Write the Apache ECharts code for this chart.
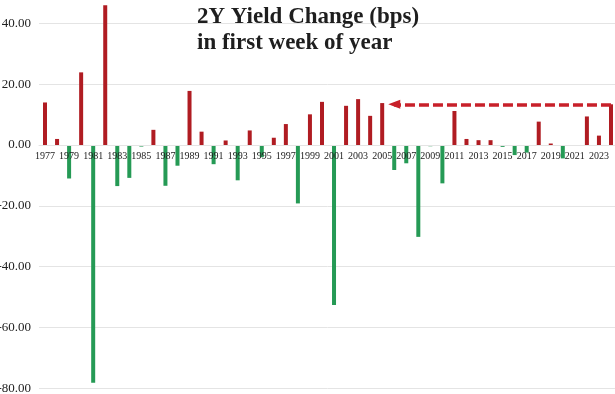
<!DOCTYPE html>
<html>
<head>
<meta charset="utf-8">
<script src="https://cdn.jsdelivr.net/npm/echarts@6/dist/echarts.min.js"></script>
<style>
html,body{margin:0;padding:0;background:#fff;}
#chart{width:615px;height:394px;}
</style>
</head>
<body>
<div id="chart"></div>
<script>
var years = ['1977','1978','1979','1980','1981','1982','1983','1984','1985','1986','1987','1988','1989','1990','1991','1992','1993','1994','1995','1996','1997','1998','1999','2000','2001','2002','2003','2004','2005','2006','2007','2008','2009','2010','2011','2012','2013','2014','2015','2016','2017','2018','2019','2020','2021','2022','2023','2024'];
var changes = [14.0,2.0,-11.0,23.9,-78.2,46.0,-13.5,-10.8,-0.5,5.0,-13.4,-6.8,17.8,4.4,-6.3,1.5,-11.6,4.8,-4.0,2.4,6.9,-19.2,10.1,14.2,-52.6,12.9,15.1,9.6,13.8,-8.2,-6.0,-30.2,-0.4,-12.6,11.2,2.0,1.6,1.6,-0.6,-3.3,-2.5,7.7,0.5,-4.4,0,9.4,3.1,13.4];
var titleLines = ['2Y Yield Change (bps)', 'in first week of year'];
var arrowFrom = '2024';
var arrowTo = '2005';
var yMin = -80, yMax = 50, yStep = 20;

var chart = echarts.init(document.getElementById('chart'));
var serif = '"Liberation Serif", "DejaVu Serif", serif';
var fromIdx = years.indexOf(arrowFrom);
var toIdx = years.indexOf(arrowTo);
var arrowLevel = changes[fromIdx];

chart.setOption({
  animation: false,
  backgroundColor: '#ffffff',
  title: {
    text: titleLines.join('\n'),
    left: 192,
    top: -1,
    textStyle: {
      fontFamily: serif,
      fontSize: 23,
      fontWeight: 'bold',
      color: '#1e1e1e',
      lineHeight: 26
    }
  },
  grid: { left: 39, right: -2, top: -7, bottom: 5.7, containLabel: false, outerBoundsMode: 'none' },
  xAxis: {
    type: 'category',
    data: years,
    boundaryGap: true,
    position: 'bottom',
    offset: 0,
    z: 5,
    axisLine: { show: true, onZero: false, lineStyle: { color: '#e4e4e4', width: 1 } },
    axisTick: { show: false },
    axisLabel: {
      interval: 1,
      margin: 6,
      fontFamily: serif,
      fontSize: 10,
      color: '#222'
    },
    splitLine: { show: false }
  },
  yAxis: {
    type: 'value',
    min: yMin,
    max: yMax,
    interval: yStep,
    axisLine: { show: false },
    axisTick: { show: false },
    axisLabel: {
      margin: 8,
      fontFamily: serif,
      fontSize: 13,
      color: '#222',
      formatter: function (v) { return v > 45 ? '' : v.toFixed(2); }
    },
    splitLine: { show: true, lineStyle: { color: '#e4e4e4', width: 1 } }
  },
  series: [{
    type: 'bar',
    data: changes,
    barWidth: 4,
    itemStyle: {
      color: function (p) { return p.value >= 0 ? '#b01c22' : '#259a55'; }
    },
    markLine: {
      silent: true,
      symbol: ['none', 'triangle'],
      symbolSize: [9, 12],
      label: { show: false },
      lineStyle: { color: '#c8202a', type: [10, 4], width: 3.5 },
      data: [[
        { coord: [fromIdx, arrowLevel] },
        { coord: [toIdx + 0.85, arrowLevel] }
      ]]
    }
  }]
});

// Move the category axis up to the zero line using the library's own scale.
var yZero = chart.convertToPixel({ yAxisIndex: 0 }, 0);
var yBottom = chart.convertToPixel({ yAxisIndex: 0 }, yMin);
chart.setOption({ xAxis: { offset: -(yBottom - yZero) } });
</script>
</body>
</html>
